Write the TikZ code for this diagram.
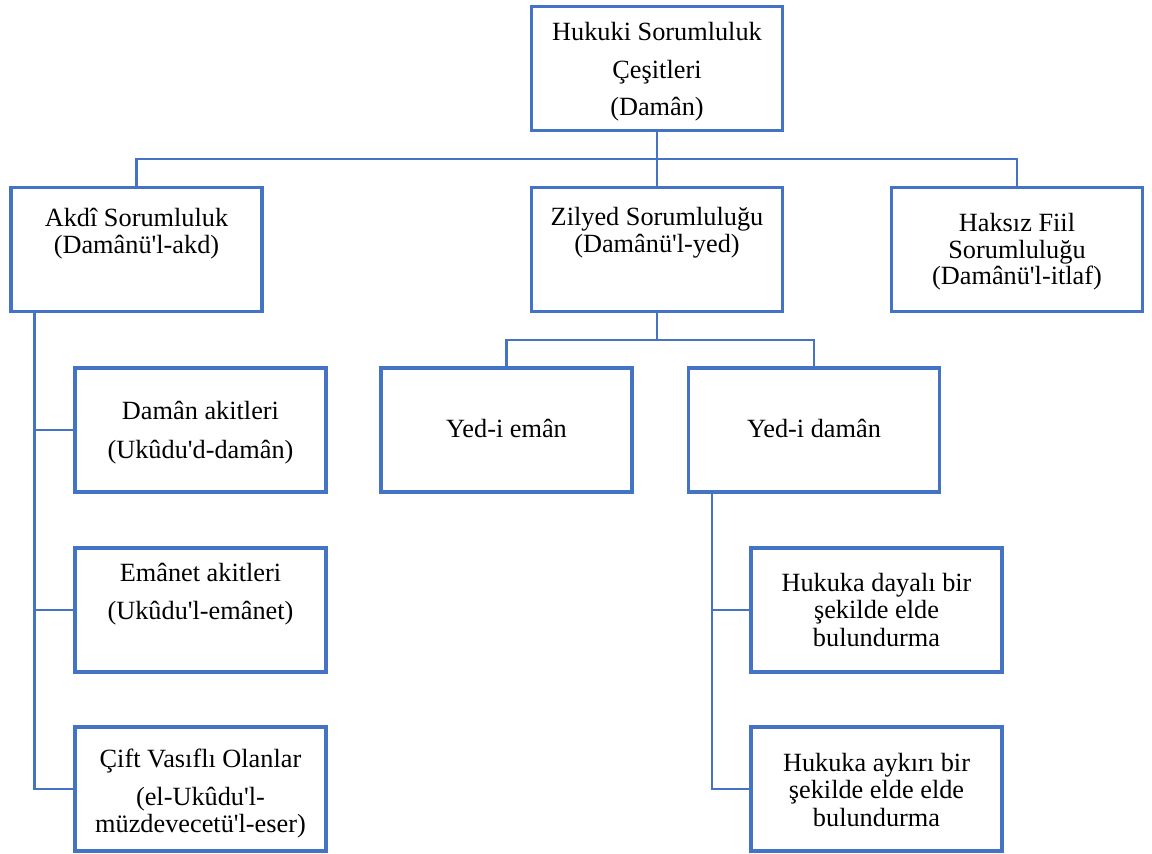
\documentclass[tikz,border=0pt]{standalone}
\usepackage{fontspec}
\setmainfont{Liberation Serif}
\definecolor{wblue}{RGB}{68,114,196}
\newcommand\apo{\textquotesingle}
\begin{document}
\begin{tikzpicture}[x=1pt,y=-1pt,
  box/.style={draw=wblue, line width=3.5pt, fill=white,
    minimum width=251pt, minimum height=124pt, inner sep=0pt},
  wire/.style={draw=wblue, line width=2.5pt},
  ln/.style={anchor=base, inner sep=0pt, font=\fontsize{26.3}{30}\selectfont}]

\useasboundingbox (0,0) rectangle (1152,854);

% boxes
\node[box] (top)  at (657,68.5)   {};
\node[box] (akdi) at (136.5,249.5) {};
\node[box] (zil)  at (657,249.5)  {};
\node[box] (hak)  at (1017,249.5) {};
\node[box] (emn)  at (506.5,430)  {};
\node[box] (dmn)  at (814,430)    {};
\node[box] (dak)  at (200.5,430)  {};
\node[box] (ema)  at (200.5,610)  {};
\node[box] (cift) at (200.5,789)  {};
\node[box] (hd)   at (876.5,610)  {};
\node[box] (ha)   at (876.5,789)  {};

% first level
\coordinate (busA) at (657,159);
\draw[wire] (top.south) -- (busA);
\draw[wire] (akdi.north) |- (busA) -| (hak.north);
\draw[wire] (busA) -- (zil.north);

% Zilyed branches
\coordinate (busB) at (657,340);
\draw[wire] (zil.south) -- (busB);
\draw[wire] (emn.north) |- (busB) -| (dmn.north);

% Akdi trunk
\coordinate (lt) at ([xshift=25pt]akdi.south west);
\draw[wire] (lt) |- (cift.west);
\draw[wire] (lt |- dak.west) -- (dak.west);
\draw[wire] (lt |- ema.west) -- (ema.west);

% Yed-i daman trunk
\coordinate (rt) at ([xshift=25pt]dmn.south west);
\draw[wire] (rt) |- (ha.west);
\draw[wire] (rt |- hd.west) -- (hd.west);

% texts
\node[ln] (top1) at (657,40)  {Hukuki Sorumluluk};
\node[ln] (top2) at (657,78)  {Çeşitleri};
\node[ln] (top3) at (657,115) {(Damân)};

\node[ln] (akdi1) at (136.5,226) {Akdî Sorumluluk};
\node[ln] (akdi2) at (136.5,253) {(Damânü\apo l-akd)};

\node[ln] (zil1) at (657,225) {Zilyed Sorumluluğu};
\node[ln] (zil2) at (657,252) {(Damânü\apo l-yed)};

\node[ln] (hak1) at (1017,231) {Haksız Fiil};
\node[ln] (hak2) at (1017,258) {Sorumluluğu};
\node[ln] (hak3) at (1017,284) {(Damânü\apo l-itlaf)};

\node[ln] (emn1) at (506.5,437) {Yed-i emân};
\node[ln] (dmn1) at (814,437)   {Yed-i damân};

\node[ln] (dak1) at (200.5,419) {Damân akitleri};
\node[ln] (dak2) at (200.5,458) {(Ukûdu\apo d-damân)};

\node[ln] (ema1) at (200.5,581) {Emânet akitleri};
\node[ln] (ema2) at (200.5,619) {(Ukûdu\apo l-emânet)};

\node[ln] (cift1) at (200.5,767) {Çift Vasıflı Olanlar};
\node[ln] (cift2) at (200.5,805) {(el-Ukûdu\apo l-};
\node[ln] (cift3) at (200.5,832) {müzdevecetü\apo l-eser)};

\node[ln] (hd1) at (876.5,591) {Hukuka dayalı bir};
\node[ln] (hd2) at (876.5,618) {şekilde elde};
\node[ln] (hd3) at (876.5,646) {bulundurma};

\node[ln] (ha1) at (876.5,771) {Hukuka aykırı bir};
\node[ln] (ha2) at (876.5,798) {şekilde elde elde};
\node[ln] (ha3) at (876.5,826) {bulundurma};
\end{tikzpicture}
\end{document}
